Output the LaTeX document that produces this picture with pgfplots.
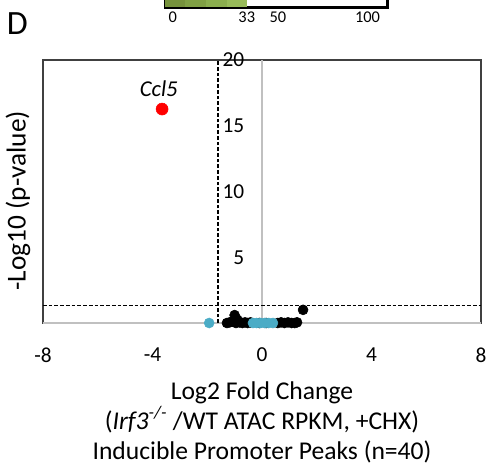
\documentclass[border=0pt]{standalone}
\usepackage{fontspec}
\setmainfont{Carlito}
\usepackage{pgfplots}
\pgfplotsset{compat=1.18}

\definecolor{frame}{HTML}{404040}
\definecolor{zeroline}{HTML}{C0C0C0}
\definecolor{aqua}{HTML}{4BACC6}
\definecolor{gA}{HTML}{76923C}
\definecolor{gB}{HTML}{80A044}
\definecolor{gC}{HTML}{8BAE4E}
\definecolor{gD}{HTML}{98BB59}

\begin{document}
\begin{tikzpicture}
\path[use as bounding box] (0,0) rectangle (366pt,-349.5pt);
\clip (0,0) rectangle (366pt,-349.5pt);

% panel letter
\node[font=\fontsize{25.5}{28}\selectfont] at (13pt,-18pt) {D};

% colour key strip (cut off at the top in the figure)
\begin{axis}[
    at={(123.75pt,-5.6pt)}, anchor=south west,
    scale only axis, width=166.5pt, height=20pt,
    xmin=-4, xmax=110, ymin=0, ymax=1,
    axis line style={black, line width=2.25pt},
    ytick=\empty,
    xtick={0,38,54,100}, xticklabels={0,33,50,100},
    major tick length=0pt,
    tick label style={font=\fontsize{12.3}{14}\selectfont},
    /pgf/number format/assume math mode=true,
]
\addplot[fill=gA, draw=none] coordinates {(-4,1) (6.3,1)} \closedcycle;
\addplot[fill=gB, draw=none] coordinates {(6.3,1) (17,1)} \closedcycle;
\addplot[fill=gC, draw=none] coordinates {(17,1) (27.8,1)} \closedcycle;
\addplot[fill=gD, draw=none] coordinates {(27.8,1) (38,1)} \closedcycle;
\end{axis}

% volcano plot
\begin{axis}[
    at={(32.25pt,-242.25pt)}, anchor=south west,
    scale only axis, width=328.5pt, height=197.25pt,
    xmin=-8, xmax=8, ymin=0, ymax=20,
    clip=false,
    axis line style={frame, line width=1.5pt},
    xtick={-8,-4,0,4,8}, ytick={5,10,15,20},
    major tick length=0pt,
    tick label style={font=\fontsize{16}{18}\selectfont},
    xticklabel style={anchor=center, yshift=-24pt},
    yticklabel style={anchor=east, xshift=154.5pt},
    /pgf/number format/assume math mode=true,
    xlabel={Log2 Fold Change\\(\textit{Irf3}\textsuperscript{\textit{-/-}} /WT ATAC RPKM, +CHX)\\Inducible Promoter Peaks (n=40)},
    xlabel style={at={(axis description cs:0.5,-0.376)}, anchor=center, align=center,
        font=\fontsize{19.2}{22.5}\selectfont},
    ylabel={-Log10 (p-value)},
    ylabel style={at={(axis description cs:-0.057,0.465)}, anchor=center,
        font=\fontsize{20.5}{23}\selectfont},
]
% bottom axis line and zero line in light grey
\draw[zeroline, line width=1.5pt] (rel axis cs:0,0) -- (rel axis cs:1,0);
\draw[zeroline, line width=1.5pt] (axis cs:0,0) -- (axis cs:0,20);

% thresholds
\addplot[black, line width=1.1pt, dash pattern=on 2.8pt off 1.5pt] coordinates {(-1.6,0) (-1.6,20)};
\addplot[black, line width=1.1pt, dash pattern=on 2.8pt off 1.5pt] coordinates {(-8,1.33) (8,1.33)};

% peaks
\addplot[only marks, mark=*, mark size=3.75pt, black] coordinates {
 (-1.28,0) (-1.18,0.05) (-1.08,0.1) (-1.0,0.6) (-0.9,0.25) (-0.95,0)
 (-0.82,0.05) (-0.72,0) (-0.62,0.05) (-0.52,0) (-0.42,0.05) (-0.1,0)
 (0.15,0) (0.58,0) (0.7,0.05) (0.82,0) (0.95,0.05) (1.08,0) (1.2,0)
 (1.28,0.05) (1.5,1.0)};
\addplot[only marks, mark=*, mark size=3.75pt, color=aqua] coordinates {
 (-1.93,0) (-0.33,0) (-0.2,0) (-0.05,0) (0.1,0) (0.25,0) (0.4,0)};
\addplot[only marks, mark=*, mark size=4.5pt, color=red,
    nodes near coords={\textit{Ccl5}},
    nodes near coords style={anchor=center, yshift=15pt, xshift=-2.5pt,
        text=black, font=\fontsize{17}{19}\selectfont}]
    coordinates {(-3.65,16.27)};
\end{axis}
\end{tikzpicture}
\end{document}
